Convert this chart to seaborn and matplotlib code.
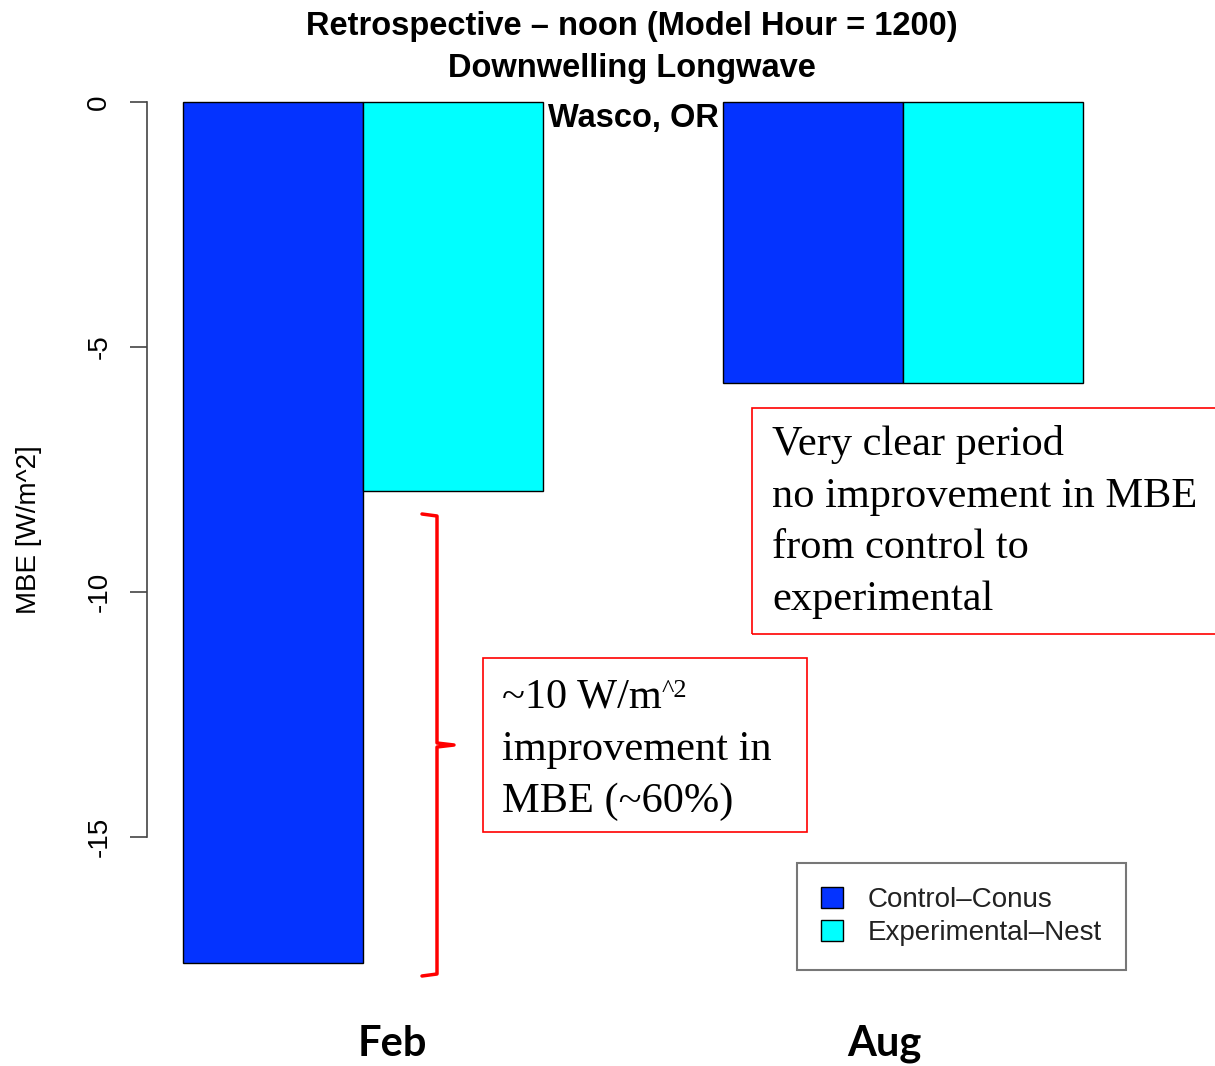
import numpy as np
import pandas as pd
import matplotlib.pyplot as plt
from matplotlib.patches import Rectangle
from matplotlib.lines import Line2D
import seaborn as sns

# Data
months = ['Feb', 'Aug']
runs = ['Control–Conus', 'Experimental–Nest']
control_mbe = [-17.57, -5.73]
nest_mbe = [-7.94, -5.73]
run_colors = ['#0433FF', '#00FFFF']
y_ticks = [0, -5, -10, -15]

title_lines = ['Retrospective – noon (Model Hour = 1200)', 'Downwelling Longwave']
site_label = 'Wasco, OR'
y_label = 'MBE [W/m^2]'
aug_note = ['Very clear period', 'no improvement in MBE', 'from control to', 'experimental']
feb_note = ['~10 W/m', 'improvement in', 'MBE (~60%)']
feb_note_sup = '^2'

W, H = 1215, 1066


def fx(px):
    return px / W


def fy(py):
    return 1 - py / H


sns.set_style('white')
plt.rcParams['font.family'] = ['Liberation Sans', 'DejaVu Sans']
plt.rcParams['axes.unicode_minus'] = False
for key in ['text.color', 'axes.labelcolor', 'xtick.color', 'ytick.color']:
    plt.rcParams[key] = 'black'
narrow = ['Liberation Sans Narrow', 'Liberation Sans', 'DejaVu Sans']
serif = ['Liberation Serif', 'DejaVu Serif']

df = pd.DataFrame({
    'month': months * 2,
    'run': [runs[0]] * len(months) + [runs[1]] * len(months),
    'mbe': control_mbe + nest_mbe,
})

fig = plt.figure(figsize=(W / 100, H / 100), dpi=100)
ax = fig.add_axes([fx(147), fy(980), fx(1130) - fx(147), fy(100) - fy(980)])

sns.barplot(data=df, x='month', y='mbe', hue='run', order=months, hue_order=runs,
            palette=run_colors, saturation=1, width=2 / 3, gap=0,
            edgecolor='black', linewidth=1, ax=ax)

# px per unit: 540 horizontally (group centres), 49 vertically
ax.set_xlim(-0.4, (1130 - 363) / 540)
ax.set_ylim(-(980 - 102) / 49, (102 - 100) / 49)

for s in ['top', 'right', 'bottom']:
    ax.spines[s].set_visible(False)
ax.spines['left'].set_bounds(-15, 0)
ax.spines['left'].set_color('#444444')
ax.spines['left'].set_linewidth(1.2)

ax.set_xticks([])
ax.set_xlabel('')
ax.set_yticks(y_ticks)
ax.set_yticklabels([str(t) for t in y_ticks])
ax.tick_params(axis='y', length=12, width=1.2, color='#444444', labelcolor='black',
               labelsize=20, pad=13, left=True)
for lab in ax.get_yticklabels():
    lab.set_rotation(90)
    lab.set_va('center')

ax.set_ylabel(y_label, fontsize=20, color='black')
ax.yaxis.set_label_coords(fx(42), fy(530), transform=fig.transFigure)

# legend
handles, labels = ax.get_legend_handles_labels()
leg = ax.legend(handles, labels, loc='upper left', bbox_to_anchor=(fx(797), fy(863)),
                bbox_transform=fig.transFigure, borderaxespad=0, fontsize=20,
                fancybox=False, frameon=True, handlelength=0.8, handleheight=0.8,
                handletextpad=0.9, labelspacing=0.25, borderpad=0.85)
leg.get_frame().set_edgecolor('#555555')
leg.get_frame().set_linewidth(1.5)
for txt in leg.get_texts():
    txt.set_color('#222222')

# titles
fig.text(fx(632), fy(27), title_lines[0], ha='center', va='center', fontsize=23.5,
         fontweight='bold', family=narrow)
fig.text(fx(632), fy(69), title_lines[1], ha='center', va='center', fontsize=23.5,
         fontweight='bold', family=narrow)
fig.text(fx(633), fy(118), site_label, ha='center', va='center', fontsize=23.5,
         fontweight='bold', family=narrow)

# month labels
for m, xc in zip(months, [392, 884]):
    fig.text(fx(xc), fy(1044), m, ha='center', va='center', fontsize=30,
             fontweight='bold', family=['Lato', 'DejaVu Sans'])

# annotation boxes
fig.add_artist(Rectangle((fx(752), fy(634)), fx(1240) - fx(752), fy(408) - fy(634),
                         transform=fig.transFigure, fill=False, edgecolor='red', lw=1.2))
for line, base in zip(aug_note, [455, 507, 558, 610]):
    fig.text(fx(772), fy(base), line, ha='left', va='baseline', fontsize=30.5, family=serif)

fig.add_artist(Rectangle((fx(483), fy(832)), fx(807) - fx(483), fy(658) - fy(832),
                         transform=fig.transFigure, fill=False, edgecolor='red', lw=1.2))
t0 = None
for line, base in zip(feb_note, [708, 760, 812]):
    t = fig.text(fx(502), fy(base), line, ha='left', va='baseline', fontsize=30.5, family=serif)
    if t0 is None:
        t0 = t
ax.annotate(feb_note_sup, xy=(1.0, 0.95), xycoords=t0, ha='left', va='top',
            fontsize=19, family=serif, annotation_clip=False)

# red bracket
bx = [422, 437, 437, 454, 437, 437, 422]
by = [514, 516, 743, 745, 747, 974, 976]
fig.add_artist(Line2D([fx(v) for v in bx], [fy(v) for v in by], transform=fig.transFigure,
                      color='red', lw=2.5, solid_joinstyle='round'))

fig.savefig('out.png', dpi=100, facecolor='white')
